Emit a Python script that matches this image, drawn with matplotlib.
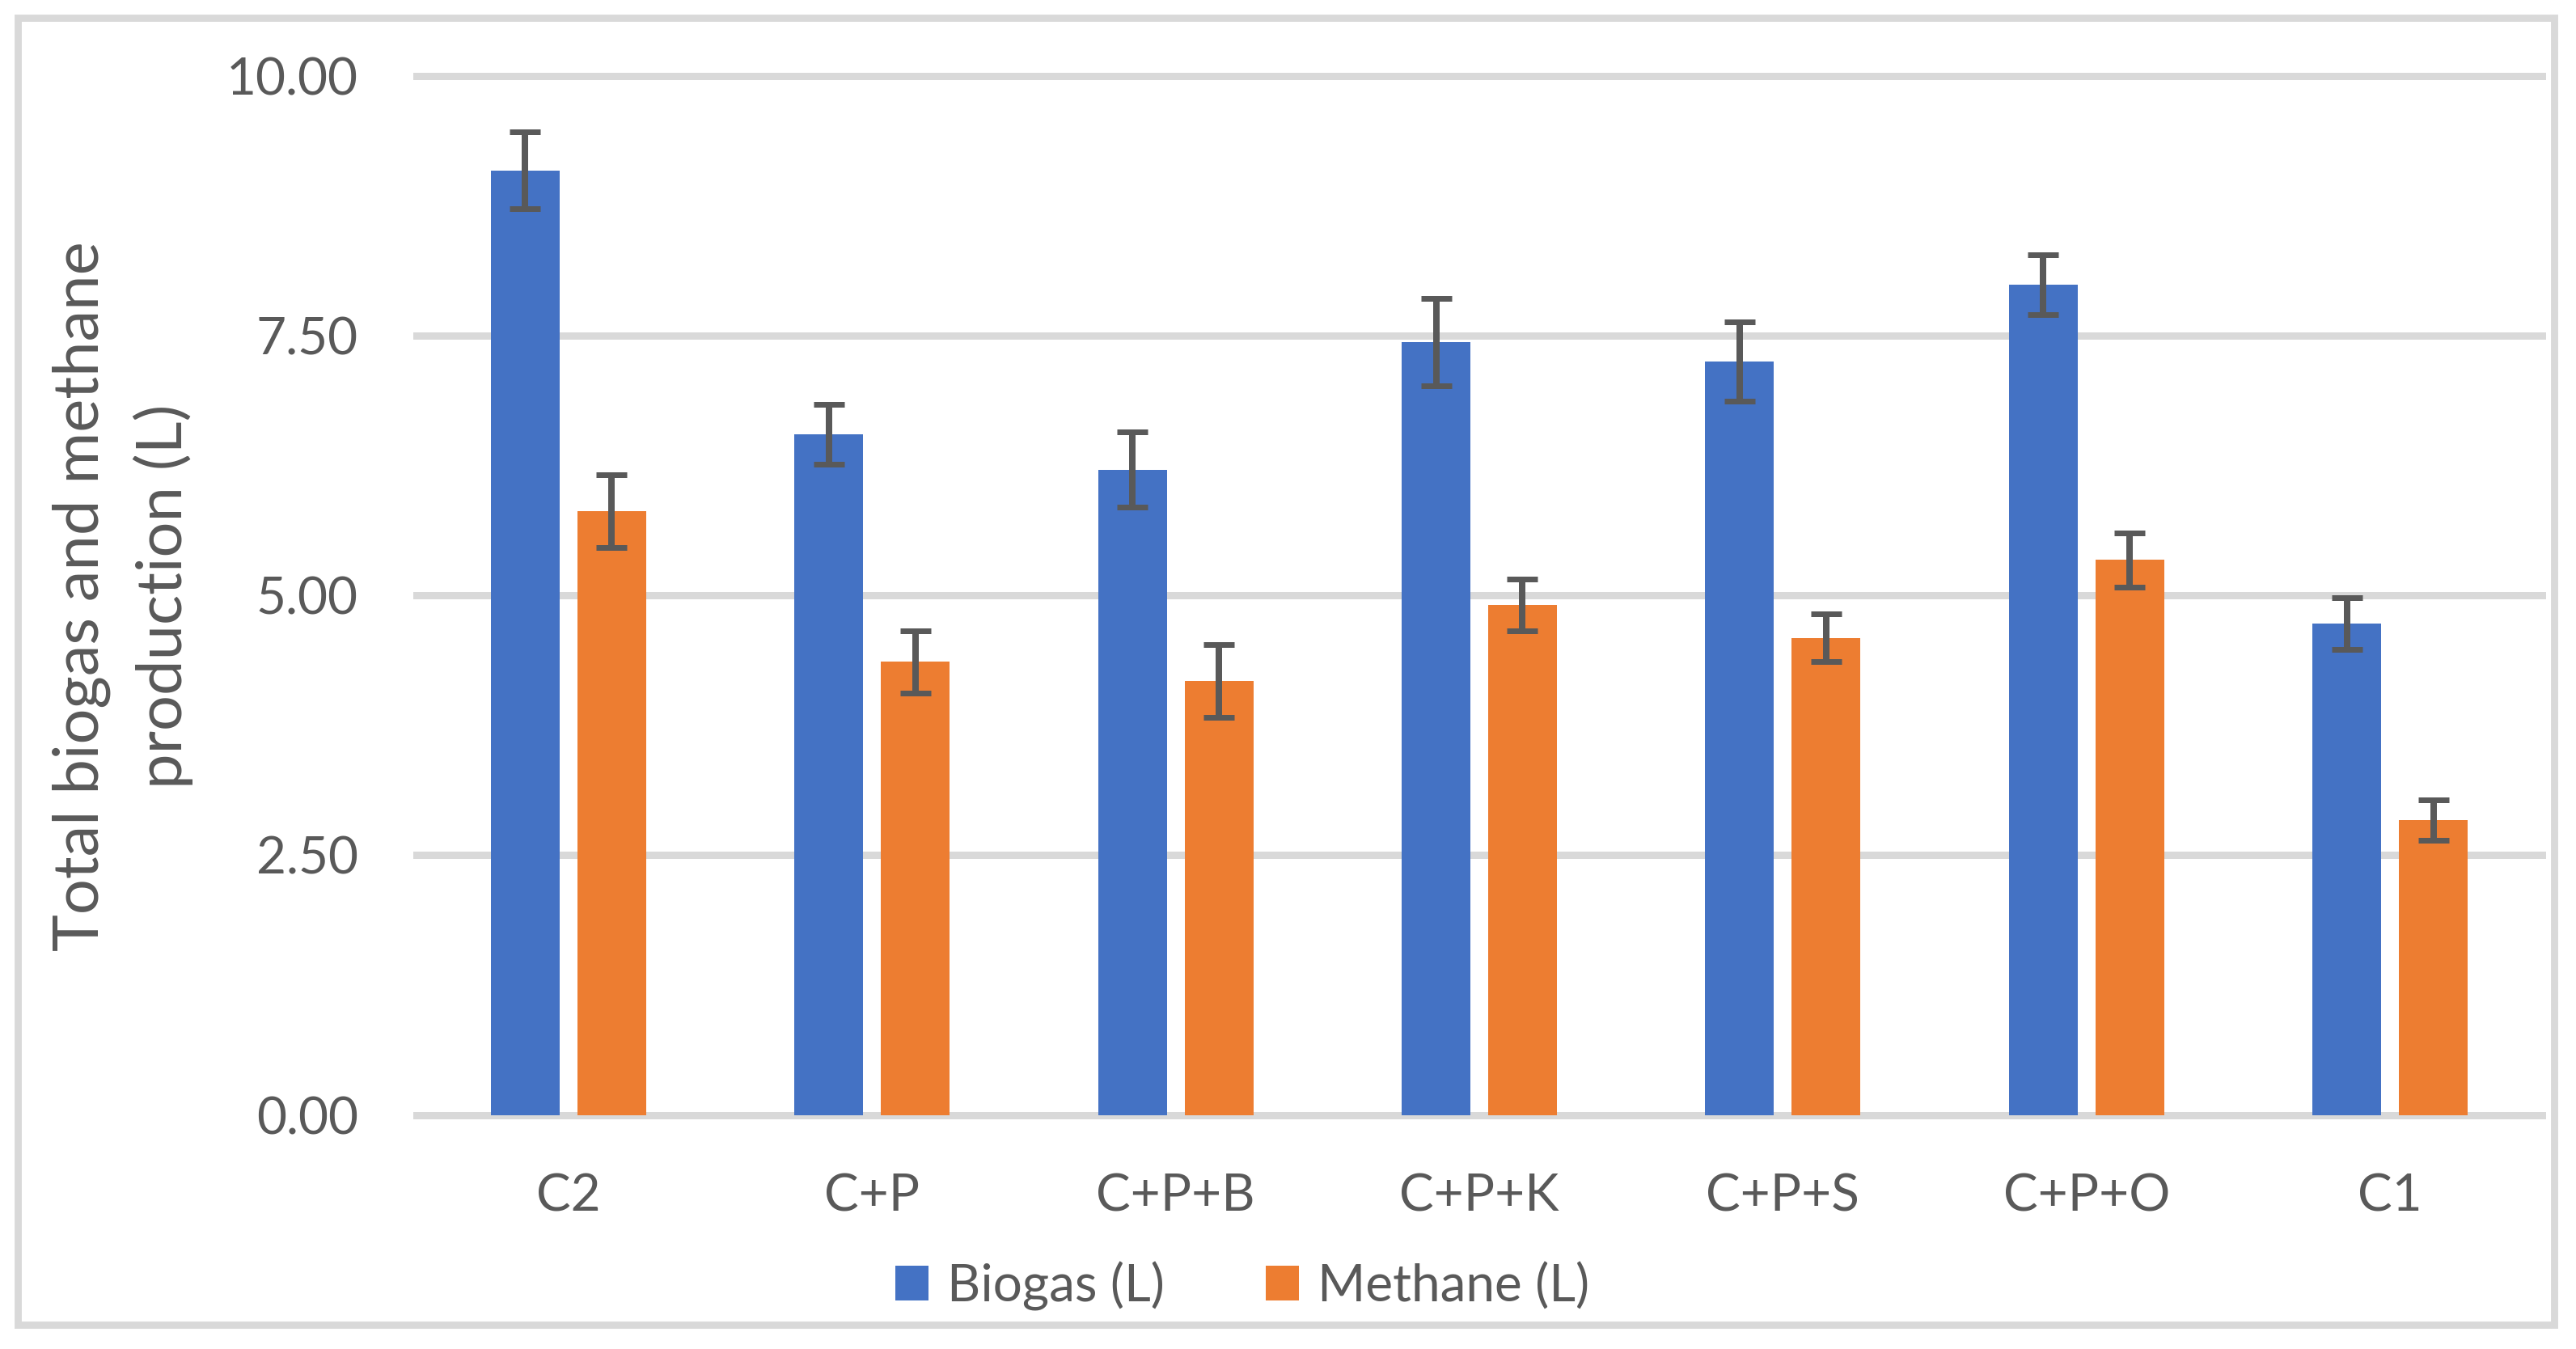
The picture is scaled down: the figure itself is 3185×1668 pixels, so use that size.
import matplotlib
matplotlib.use("Agg")
import matplotlib.pyplot as plt
from matplotlib.patches import Rectangle
import numpy as np

categories = ["C2", "C+P", "C+P+B", "C+P+K", "C+P+S", "C+P+O", "C1"]
biogas = [9.09, 6.55, 6.21, 7.44, 7.25, 7.99, 4.73]
biogas_err = [0.37, 0.29, 0.36, 0.42, 0.38, 0.29, 0.25]
methane = [5.81, 4.36, 4.18, 4.91, 4.59, 5.34, 2.84]
methane_err = [0.35, 0.30, 0.35, 0.25, 0.23, 0.26, 0.195]
yticks = [0.0, 2.5, 5.0, 7.5, 10.0]

plt.rcParams['font.family'] = ['Lato', 'DejaVu Sans']

W, H = 3185, 1668
DPI = 200
fig = plt.figure(figsize=(W / DPI, H / DPI), dpi=DPI)
fig.patch.set_facecolor('white')

# axes placement (pixel coordinates)
left, right = 515, 3143
y0_px, y10_px = 1378.7, 93.6
ax = fig.add_axes([left / W, (H - y0_px) / H, (right - left) / W, (y0_px - y10_px) / H])

x = np.arange(len(categories))
bw = 0.2264
off = 0.1425
blue = '#4472C4'
orange = '#ED7D31'
ecol = '#595959'
txt = '#595959'
grid = '#D9D9D9'

ax.bar(x - off, biogas, bw, color=blue, label='Biogas (L)', zorder=2)
ax.bar(x + off, methane, bw, color=orange, label='Methane (L)', zorder=2)
ekw = dict(fmt='none', ecolor=ecol, elinewidth=2.88, capsize=6.84, capthick=2.52, zorder=3)
ax.errorbar(x - off, biogas, yerr=biogas_err, **ekw)
ax.errorbar(x + off, methane, yerr=methane_err, **ekw)

ax.set_xlim(-0.5, len(categories) - 0.5)
ax.set_ylim(0, 10)
ax.set_yticks(yticks)
ax.set_yticklabels([f"{v:.2f}" for v in yticks])
ax.set_xticks(x)
ax.set_xticklabels(categories)
ax.yaxis.grid(True, color=grid, linewidth=3.24)
ax.set_axisbelow(True)
for gl in ax.yaxis.get_gridlines():
    gl.set_clip_on(False)
for s in ax.spines.values():
    s.set_visible(False)
ax.tick_params(axis='both', length=0, labelsize=23, labelcolor=txt)
ax.tick_params(axis='y', pad=26)
ax.tick_params(axis='x', pad=26)

fig.text(152 / W, 1 - 737 / H, "Total biogas and methane\nproduction (L)", rotation=90,
         ha='center', va='center', multialignment='center', fontsize=28, color=txt,
         linespacing=1.45)

leg = fig.legend(loc='center', bbox_to_anchor=(1536 / W, 1 - 1590 / H), ncol=2, frameon=False,
                 fontsize=23, handlelength=0.64, handleheight=0.66, handletextpad=0.36,
                 columnspacing=1.95, borderaxespad=0)
for t in leg.get_texts():
    t.set_color(txt)

# outer border
fig.patches.append(Rectangle((21.5 / W, 1 - 1637.5 / H), (3157.5 - 21.5) / W, (1637.5 - 22) / H,
                             transform=fig.transFigure, fill=False, edgecolor=grid,
                             linewidth=3.2, zorder=0))

fig.savefig("out.png", dpi=DPI, facecolor='white')
